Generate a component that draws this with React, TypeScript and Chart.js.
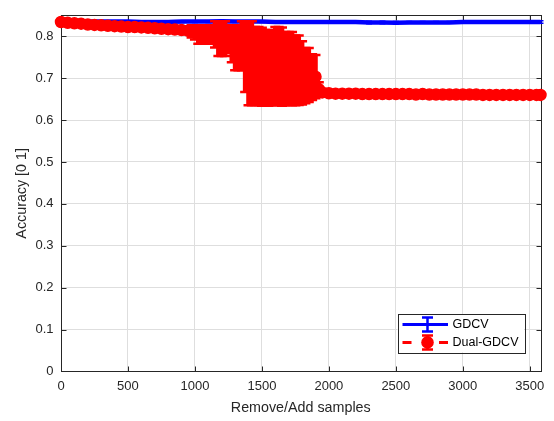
import React, { useEffect, useRef } from 'react';
import { Chart, registerables } from 'chart.js';

Chart.register(...registerables);

const FONT = '"Liberation Sans", Arial, Helvetica, sans-serif';
const AXIS_COLOR = '#262626';
const GRID_COLOR = '#dedede';

const xTicks = [0, 500, 1000, 1500, 2000, 2500, 3000, 3500];
const yTicks = [0, 0.1, 0.2, 0.3, 0.4, 0.5, 0.6, 0.7, 0.8];
const xMax = 3580;
const yMax = 0.85;

const seriesNames = ['GDCV', 'Dual-GDCV'];

// GDCV (blue)
const gdcvX = [0, 100, 200, 300, 400, 500, 600, 700, 800, 900, 1000, 1100, 1200, 1300, 1400, 1500, 1600, 1700, 1800,
  1900, 2000, 2100, 2200, 2300, 2400, 2500, 2600, 2700, 2800, 2900, 3000, 3100, 3200, 3300, 3400, 3500, 3580];
const gdcvY = [0.836, 0.836, 0.835, 0.835, 0.835, 0.835, 0.834, 0.834, 0.834, 0.835, 0.835, 0.835, 0.836, 0.835,
  0.835, 0.835, 0.834, 0.834, 0.834, 0.834, 0.834, 0.834, 0.834, 0.833, 0.833, 0.832, 0.833, 0.833, 0.833, 0.833,
  0.834, 0.834, 0.834, 0.834, 0.834, 0.834, 0.834];
const gdcvErr = [0.002, 0.002, 0.002, 0.002, 0.002, 0.002, 0.002, 0.002, 0.002, 0.002, 0.002, 0.002, 0.002, 0.002,
  0.002, 0.002, 0.002, 0.002, 0.002, 0.002, 0.002, 0.002, 0.002, 0.003, 0.003, 0.003, 0.002, 0.002, 0.002, 0.002,
  0.002, 0.002, 0.002, 0.003, 0.003, 0.003, 0.003];

// Dual-GDCV (red)
const dualX = [0, 50, 100, 150, 200, 250, 300, 350, 400, 450, 500, 550, 600, 650, 700, 750, 800, 850, 900, 950,
  975, 1000, 1025, 1050, 1075, 1100, 1125, 1150, 1175, 1200, 1225, 1250, 1275, 1300, 1325, 1350, 1375, 1400, 1425,
  1450, 1475, 1500, 1525, 1550, 1575, 1600, 1625, 1650, 1675, 1700, 1725, 1750, 1775, 1800, 1825, 1850, 1875, 1900,
  1925,
  1950, 2000, 2050, 2100, 2150, 2200, 2250, 2300, 2350, 2400, 2450, 2500, 2550, 2600, 2650, 2700, 2750, 2800, 2850,
  2900, 2950, 3000, 3050, 3100, 3150, 3200, 3250, 3300, 3350, 3400, 3450, 3500, 3550, 3580];
const dualY = [0.834, 0.832, 0.831, 0.830, 0.828, 0.827, 0.826, 0.825, 0.824, 0.823, 0.822, 0.822, 0.821, 0.820,
  0.819, 0.818, 0.817, 0.816, 0.815, 0.813,
  0.8115, 0.809, 0.804, 0.804, 0.804, 0.804, 0.804, 0.8045, 0.7945, 0.7945, 0.7945, 0.793, 0.782, 0.7725, 0.7725,
  0.7775, 0.7515, 0.7355, 0.7355, 0.729, 0.7285, 0.727, 0.725, 0.7245, 0.7245, 0.729, 0.7285, 0.7275, 0.7225, 0.723,
  0.7225, 0.7185, 0.719, 0.7125, 0.706, 0.7075, 0.7025, 0.7035, 0.6735,
  0.666, 0.664, 0.663, 0.663, 0.663, 0.663, 0.662, 0.662, 0.662, 0.662, 0.662, 0.662, 0.662, 0.662, 0.661, 0.662,
  0.661, 0.661, 0.661, 0.661, 0.661, 0.661, 0.661, 0.661, 0.660, 0.660, 0.660, 0.660, 0.660, 0.660, 0.660, 0.660,
  0.660, 0.660];
const dualErr = [0.003, 0.004, 0.004, 0.004, 0.004, 0.004, 0.004, 0.004, 0.004, 0.006, 0.007, 0.007, 0.007, 0.007,
  0.007, 0.007, 0.007, 0.008, 0.008, 0.008,
  0.0145, 0.017, 0.022, 0.022, 0.022, 0.022, 0.022, 0.0315, 0.0415, 0.0415, 0.0415, 0.033, 0.044, 0.0535, 0.0535,
  0.0585, 0.0845, 0.1005, 0.1005, 0.093, 0.0935, 0.093, 0.09, 0.0905, 0.0895, 0.093, 0.0935, 0.0935, 0.0875, 0.087,
  0.0875, 0.0835, 0.083, 0.0755, 0.066, 0.0645, 0.0545, 0.0515, 0.0165,
  0.008, 0.008, 0.008, 0.008, 0.008, 0.008, 0.008, 0.008, 0.008, 0.008,
  0.007, 0.007, 0.007, 0.007, 0.007, 0.007, 0.007, 0.007, 0.007, 0.007, 0.007, 0.007,
  0.005, 0.005, 0.005, 0.005, 0.005, 0.005, 0.005, 0.005, 0.005, 0.005, 0.005, 0.005];

const BLUE = '#0000ff';
const RED = '#ff0000';

const errorBarPlugin = {
  id: 'errorBars',
  beforeDatasetDraw(chart: any, args: any) {
    const ds: any = chart.data.datasets[args.index];
    if (!ds.errors) return;
    const meta = args.meta;
    const yScale = chart.scales.y;
    const ctx = chart.ctx;
    ctx.save();
    ctx.strokeStyle = ds.borderColor;
    ctx.setLineDash([]);
    ctx.lineCap = 'butt';
    meta.data.forEach((pt: any, i: number) => {
      const v = ds.data[i].y;
      const e = ds.errors[i];
      const yTop = yScale.getPixelForValue(v + e);
      const yBot = yScale.getPixelForValue(v - e);
      const x = pt.x;
      ctx.lineWidth = ds.errStem;
      ctx.beginPath();
      ctx.moveTo(x, yTop);
      ctx.lineTo(x, yBot);
      ctx.stroke();
      if (ds.errCap > 0) {
        ctx.lineWidth = ds.errCapW;
        ctx.beginPath();
        ctx.moveTo(x - ds.errCap, yTop);
        ctx.lineTo(x + ds.errCap, yTop);
        ctx.moveTo(x - ds.errCap, yBot);
        ctx.lineTo(x + ds.errCap, yBot);
        ctx.stroke();
      }
    });
    ctx.restore();
  },
};

const boxPlugin = {
  id: 'boxTicks',
  beforeDatasetsDraw(chart: any) {
    const { ctx, chartArea: ca, scales } = chart;
    ctx.save();
    ctx.strokeStyle = AXIS_COLOR;
    ctx.lineWidth = 1;
    const l = Math.round(ca.left) + 0.5;
    const r = Math.round(ca.right) + 0.5;
    const t = Math.round(ca.top) + 0.5;
    const b = Math.round(ca.bottom) + 0.5;
    ctx.strokeRect(l, t, r - l, b - t);
    const tl = 5;
    ctx.beginPath();
    xTicks.forEach((v) => {
      const x = Math.round(scales.x.getPixelForValue(v)) + 0.5;
      ctx.moveTo(x, b);
      ctx.lineTo(x, b - tl);
      ctx.moveTo(x, t);
      ctx.lineTo(x, t + tl);
    });
    yTicks.forEach((v) => {
      const y = Math.round(scales.y.getPixelForValue(v)) + 0.5;
      ctx.moveTo(l, y);
      ctx.lineTo(l + tl, y);
      ctx.moveTo(r, y);
      ctx.lineTo(r - tl, y);
    });
    ctx.stroke();
    ctx.restore();
  },
};

const legendPlugin = {
  id: 'mLegend',
  afterDraw(chart: any) {
    const { ctx, chartArea: ca } = chart;
    const x1 = ca.right - 16.5;
    const y1 = ca.bottom - 19;
    const x0 = x1 - 126.5;
    const y0 = y1 - 38.5;
    ctx.save();
    ctx.fillStyle = '#ffffff';
    ctx.fillRect(x0, y0, x1 - x0, y1 - y0);
    ctx.strokeStyle = AXIS_COLOR;
    ctx.lineWidth = 1;
    ctx.strokeRect(Math.round(x0) + 0.5, Math.round(y0) + 0.5, Math.round(x1 - x0), Math.round(y1 - y0));
    const cx = x0 + 30;
    const lx0 = x0 + 5;
    const lx1 = x0 + 50.5;
    // entry 1: GDCV
    let cy = y0 + 10.5;
    ctx.strokeStyle = BLUE;
    ctx.lineWidth = 3;
    ctx.beginPath();
    ctx.moveTo(lx0, cy);
    ctx.lineTo(lx1, cy);
    ctx.stroke();
    ctx.lineWidth = 2.5;
    ctx.beginPath();
    ctx.moveTo(cx, cy - 7);
    ctx.lineTo(cx, cy + 7);
    ctx.moveTo(cx - 5.5, cy - 7);
    ctx.lineTo(cx + 5.5, cy - 7);
    ctx.moveTo(cx - 5.5, cy + 7);
    ctx.lineTo(cx + 5.5, cy + 7);
    ctx.stroke();
    ctx.fillStyle = '#000000';
    ctx.font = `12.5px ${FONT}`;
    ctx.textBaseline = 'middle';
    ctx.textAlign = 'left';
    ctx.fillText(seriesNames[0], x0 + 55, cy + 0.5);
    // entry 2: Dual-GDCV
    cy = y0 + 28.5;
    ctx.strokeStyle = RED;
    ctx.lineWidth = 3;
    ctx.beginPath();
    ctx.moveTo(lx0, cy);
    ctx.lineTo(lx0 + 9, cy);
    ctx.moveTo(lx1 - 9, cy);
    ctx.lineTo(lx1, cy);
    ctx.stroke();
    ctx.lineWidth = 2.5;
    ctx.beginPath();
    ctx.moveTo(cx, cy - 7);
    ctx.lineTo(cx, cy + 7);
    ctx.moveTo(cx - 5.5, cy - 7);
    ctx.lineTo(cx + 5.5, cy - 7);
    ctx.moveTo(cx - 5.5, cy + 7);
    ctx.lineTo(cx + 5.5, cy + 7);
    ctx.stroke();
    ctx.fillStyle = RED;
    ctx.beginPath();
    ctx.arc(cx, cy, 6.3, 0, Math.PI * 2);
    ctx.fill();
    ctx.fillStyle = '#000000';
    ctx.fillText(seriesNames[1], x0 + 55, cy + 0.5);
    ctx.restore();
  },
};

export default function App() {
  const canvasRef = useRef<HTMLCanvasElement | null>(null);

  useEffect(() => {
    if (!canvasRef.current) return;
    Chart.defaults.font.family = FONT;
    const chart = new Chart(canvasRef.current, {
      type: 'line',
      data: {
        datasets: [
          {
            label: seriesNames[1],
            data: dualX.map((x, i) => ({ x, y: dualY[i] })),
            borderColor: RED,
            backgroundColor: RED,
            borderWidth: 3,
            borderDash: [9, 6],
            pointRadius: 5.5,
            pointBorderWidth: 1.5,
            pointBackgroundColor: RED,
            pointBorderColor: RED,
            clip: false,
            errors: dualErr,
            errStem: 4.6,
            errCap: 5,
            errCapW: 2.5,
          } as any,
          {
            label: seriesNames[0],
            data: gdcvX.map((x, i) => ({ x, y: gdcvY[i] })),
            borderColor: BLUE,
            backgroundColor: BLUE,
            borderWidth: 4.5,
            pointRadius: 0,
            clip: false,
            errors: gdcvErr,
            errStem: 2,
            errCap: 3,
            errCapW: 1.5,
          } as any,
        ],
      },
      options: {
        animation: false,
        responsive: false,
        devicePixelRatio: 1,
        events: [],
        layout: { padding: { left: 0, right: 13.5, top: 11, bottom: 0 } },
        plugins: {
          legend: { display: false },
          tooltip: { enabled: false },
        },
        scales: {
          x: {
            type: 'linear',
            min: 0,
            max: xMax,
            afterBuildTicks: (s: any) => {
              s.ticks = xTicks.map((v) => ({ value: v }));
            },
            afterFit: (s: any) => {
              s.height = 49.6;
            },
            grid: { color: GRID_COLOR, drawTicks: false, lineWidth: 1 },
            border: { display: false },
            ticks: {
              color: AXIS_COLOR,
              font: { size: 13, family: FONT },
              padding: 7,
              maxRotation: 0,
              autoSkip: false,
              callback: (v: any) => String(v),
            },
            title: {
              display: true,
              text: 'Remove/Add samples',
              color: AXIS_COLOR,
              font: { size: 14.3, family: FONT },
              padding: { top: 0, bottom: 4 },
            },
          },
          y: {
            type: 'linear',
            min: 0,
            max: yMax,
            afterBuildTicks: (s: any) => {
              s.ticks = yTicks.map((v) => ({ value: v }));
            },
            afterFit: (s: any) => {
              s.width = 61;
            },
            grid: { color: GRID_COLOR, drawTicks: false, lineWidth: 1 },
            border: { display: false },
            ticks: {
              color: AXIS_COLOR,
              font: { size: 13, family: FONT },
              padding: 7.5,
              callback: (v: any) => String(Math.round(Number(v) * 10) / 10),
            },
            title: {
              display: true,
              text: 'Accuracy [0 1]',
              color: AXIS_COLOR,
              font: { size: 14.3, family: FONT },
              padding: { top: 13.4, bottom: 0 },
            },
          },
        },
      } as any,
      plugins: [boxPlugin, errorBarPlugin, legendPlugin],
    });
    return () => chart.destroy();
  }, []);

  return (
    <div style={{ position: 'fixed', left: 0, top: 0, width: 554, height: 421, background: '#fff' }}>
      <canvas ref={canvasRef} width={554} height={421} style={{ display: 'block', width: 554, height: 421 }} />
    </div>
  );
}
